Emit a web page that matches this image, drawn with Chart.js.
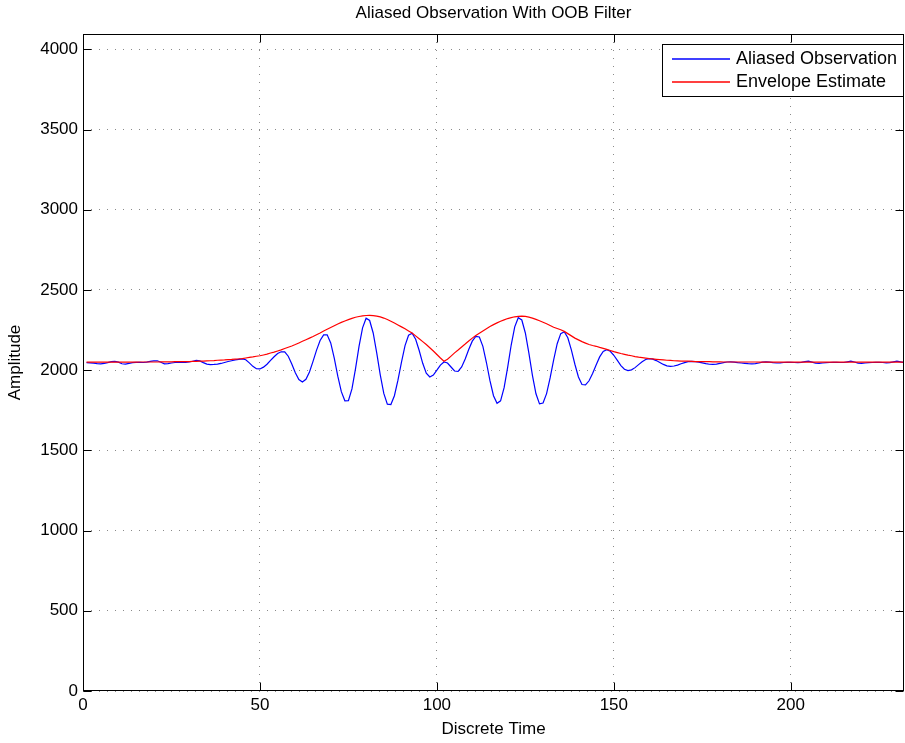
<!DOCTYPE html>
<html>
<head>
<meta charset="utf-8">
<script src="https://cdn.jsdelivr.net/npm/chart.js@4"></script>
<style>
  html, body { margin: 0; padding: 0; background: #fff; }
  canvas { display: block; }
</style>
</head>
<body>
<canvas id="chart" width="905" height="743"></canvas>
<script>
const chartTitle = "Aliased Observation With OOB Filter";
const seriesNames = ["Aliased Observation", "Envelope Estimate"];
const seriesColors = ["#0000ff", "#ff0000"];
const xTicks = [0, 50, 100, 150, 200];
const yTicks = [0, 500, 1000, 1500, 2000, 2500, 3000, 3500, 4000];

// samples 1..232
const observation = [
  2047, 2046, 2044, 2041, 2040, 2042, 2047, 2053, 2055, 2050,
  2040, 2038, 2042, 2047, 2049, 2049, 2048, 2050, 2055, 2058,
  2059, 2050, 2040, 2041, 2045, 2048, 2049, 2049, 2049, 2051,
  2056, 2061, 2058, 2047, 2038, 2035, 2036, 2038, 2042, 2048,
  2054, 2059, 2064, 2068, 2070, 2065, 2046, 2024, 2009, 2008,
  2019, 2037, 2061, 2084, 2104, 2115, 2114, 2087, 2038, 1984,
  1942, 1926, 1943, 1989, 2055, 2125, 2185, 2220, 2221, 2170,
  2075, 1963, 1866, 1809, 1810, 1883, 2008, 2148, 2264, 2324,
  2310, 2232, 2108, 1971, 1855, 1788, 1786, 1841, 1938, 2051,
  2153, 2218, 2230, 2193, 2123, 2043, 1981, 1958, 1970, 2000,
  2032, 2051, 2045, 2020, 1995, 1992, 2020, 2070, 2129, 2181,
  2211, 2207, 2149, 2048, 1935, 1841, 1794, 1809, 1891, 2018,
  2157, 2270, 2327, 2313, 2232, 2107, 1968, 1853, 1790, 1795,
  1854, 1952, 2064, 2165, 2228, 2240, 2202, 2127, 2037, 1958,
  1911, 1908, 1934, 1979, 2033, 2083, 2117, 2128, 2118, 2093,
  2061, 2029, 2006, 1997, 2002, 2016, 2035, 2053, 2067, 2072,
  2069, 2060, 2048, 2036, 2027, 2024, 2026, 2032, 2040, 2047,
  2053, 2055, 2054, 2050, 2046, 2041, 2037, 2036, 2038, 2042,
  2047, 2051, 2052, 2050, 2047, 2045, 2043, 2041, 2040, 2041,
  2045, 2050, 2052, 2050, 2047, 2045, 2046, 2048, 2049, 2049,
  2048, 2047, 2049, 2053, 2056, 2050, 2044, 2043, 2045, 2047,
  2048, 2049, 2049, 2048, 2048, 2052, 2056, 2051, 2044, 2043,
  2045, 2047, 2048, 2049, 2049, 2048, 2046, 2047, 2052, 2056,
  2052, 2047
];

const envelope = [
  2050, 2050, 2050, 2050, 2050, 2050, 2050, 2050, 2050, 2050,
  2050, 2050, 2050, 2050, 2050, 2051, 2051, 2051, 2051, 2051,
  2051, 2052, 2052, 2052, 2052, 2053, 2053, 2053, 2054, 2054,
  2055, 2055, 2056, 2057, 2058, 2059, 2060, 2062, 2063, 2064,
  2066, 2067, 2069, 2070, 2072, 2076, 2080, 2083, 2087, 2090,
  2095, 2100, 2107, 2113, 2120, 2127, 2135, 2143, 2151, 2160,
  2170, 2180, 2190, 2200, 2210, 2221, 2232, 2244, 2255, 2266,
  2277, 2288, 2298, 2307, 2315, 2323, 2330, 2335, 2339, 2341,
  2342, 2340, 2337, 2332, 2325, 2316, 2305, 2294, 2282, 2270,
  2258, 2245, 2232, 2214, 2196, 2178, 2160, 2140, 2120, 2098,
  2076, 2056, 2068, 2088, 2108, 2126, 2145, 2163, 2182, 2200,
  2216, 2231, 2245, 2259, 2272, 2284, 2295, 2305, 2314, 2322,
  2328, 2333, 2336, 2337, 2335, 2331, 2325, 2317, 2308, 2299,
  2290, 2279, 2268, 2260, 2252, 2242, 2228, 2214, 2200, 2189,
  2178, 2169, 2160, 2154, 2149, 2142, 2136, 2130, 2123, 2116,
  2110, 2104, 2099, 2094, 2090, 2085, 2081, 2078, 2075, 2072,
  2070, 2068, 2066, 2064, 2062, 2061, 2059, 2058, 2057, 2056,
  2056, 2055, 2054, 2054, 2053, 2053, 2053, 2052, 2052, 2052,
  2051, 2051, 2051, 2051, 2051, 2051, 2051, 2051, 2051, 2051,
  2050, 2050, 2050, 2050, 2050, 2050, 2050, 2050, 2050, 2050,
  2050, 2050, 2050, 2050, 2050, 2050, 2050, 2050, 2050, 2050,
  2050, 2050, 2050, 2050, 2050, 2050, 2050, 2050, 2050, 2050,
  2050, 2050, 2050, 2050, 2050, 2050, 2050, 2050, 2050, 2050,
  2050, 2050
];

const FONT = "'Liberation Sans', Arial, Helvetica, sans-serif";

const toPoints = (arr) => arr.map((v, i) => ({ x: i + 1, y: v }));

// matlab style: box, inward ticks, title over the axes, legend in the corner
const matlabFrame = {
  id: "matlabFrame",
  afterDraw(chart) {
    const { ctx, chartArea: a, scales } = chart;
    const L = Math.round(a.left) + 0.5;
    const R = Math.round(a.right) - 0.5;
    const T = Math.round(a.top) + 0.5;
    const B = Math.round(a.bottom) - 0.5;
    ctx.save();
    ctx.strokeStyle = "#000";
    ctx.lineWidth = 1;
    ctx.setLineDash([]);
    ctx.strokeRect(L, T, R - L, B - T);

    const tl = 8;
    ctx.beginPath();
    xTicks.forEach((v) => {
      const px = Math.round(scales.x.getPixelForValue(v)) + 0.5;
      ctx.moveTo(px, B); ctx.lineTo(px, B - tl);
      ctx.moveTo(px, T); ctx.lineTo(px, T + tl);
    });
    yTicks.forEach((v) => {
      const py = Math.round(scales.y.getPixelForValue(v)) + 0.5;
      ctx.moveTo(L, py); ctx.lineTo(L + tl, py);
      ctx.moveTo(R, py); ctx.lineTo(R - tl, py);
    });
    ctx.stroke();

    // title
    ctx.fillStyle = "#000";
    ctx.font = "17px " + FONT;
    ctx.textAlign = "center";
    ctx.textBaseline = "middle";
    ctx.fillText(chartTitle, (a.left + a.right) / 2, 13);

    // legend
    const bx = 662.5, by = 44.5, bw = 241, bh = 52;
    ctx.fillStyle = "#fff";
    ctx.fillRect(bx, by, bw, bh);
    ctx.strokeStyle = "#000";
    ctx.strokeRect(bx, by, bw, bh);
    ctx.font = "18px " + FONT;
    ctx.textAlign = "left";
    seriesNames.forEach((name, i) => {
      const ly = Math.round(by + 14 + i * 23.5);
      ctx.strokeStyle = seriesColors[i];
      ctx.lineWidth = 1.3;
      ctx.beginPath();
      ctx.moveTo(672, ly);
      ctx.lineTo(730, ly);
      ctx.stroke();
      ctx.fillStyle = "#000";
      ctx.fillText(name, 736, ly);
    });
    ctx.restore();
  }
};

new Chart(document.getElementById("chart"), {
  type: "line",
  data: {
    datasets: [
      {
        label: seriesNames[0],
        data: toPoints(observation),
        borderColor: seriesColors[0],
        borderWidth: 1.2,
        pointRadius: 0,
        tension: 0,
        order: 1
      },
      {
        label: seriesNames[1],
        data: toPoints(envelope),
        borderColor: seriesColors[1],
        borderWidth: 1.2,
        pointRadius: 0,
        tension: 0,
        order: 0
      }
    ]
  },
  options: {
    responsive: false,
    animation: false,
    layout: { padding: { top: 34, right: 1, left: 0, bottom: 0 } },
    plugins: {
      legend: { display: false },
      title: { display: false },
      tooltip: { enabled: false }
    },
    scales: {
      x: {
        type: "linear",
        min: 0,
        max: 232,
        afterFit: (s) => { s.height = 52; },
        afterBuildTicks: (s) => { s.ticks = xTicks.map((v) => ({ value: v })); },
        ticks: {
          includeBounds: false,
          padding: 4,
          color: "#000",
          font: { family: FONT, size: 17 },
          callback: (v) => String(v)
        },
        grid: { color: "#8a8a8a", lineWidth: 1, drawTicks: false },
        border: { display: false, dash: [1, 7] },
        title: {
          display: true,
          text: "Discrete Time",
          color: "#000",
          font: { family: FONT, size: 17 },
          padding: { top: 0, bottom: 3 }
        }
      },
      y: {
        min: 0,
        max: 4096,
        afterFit: (s) => { s.width = 83; },
        afterBuildTicks: (s) => { s.ticks = yTicks.map((v) => ({ value: v })); },
        ticks: {
          includeBounds: false,
          padding: 5,
          color: "#000",
          font: { family: FONT, size: 17 },
          callback: (v) => String(v)
        },
        grid: { color: "#8a8a8a", lineWidth: 1, drawTicks: false },
        border: { display: false, dash: [1, 7] },
        title: {
          display: true,
          text: "Amplitude",
          color: "#000",
          font: { family: FONT, size: 17 },
          padding: { top: 5, bottom: 0 }
        }
      }
    }
  },
  plugins: [matlabFrame]
});
</script>
</body>
</html>
